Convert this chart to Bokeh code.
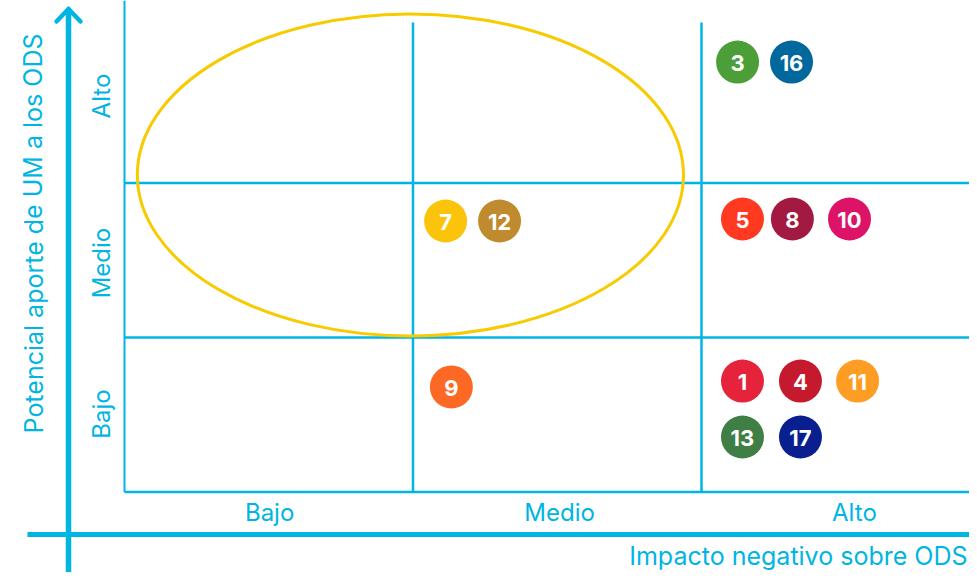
from bokeh.plotting import figure
from bokeh.models import Range1d, ColumnDataSource
from bokeh.core.properties import value
from bokeh.embed import file_html
from bokeh.resources import INLINE

# ---- data ----
levels = ["Bajo", "Medio", "Alto"]
x_title = "Impacto negativo sobre ODS"
y_title = "Potencial aporte de UM a los ODS"

ods = ["3", "16", "5", "8", "10", "7", "12", "9", "1", "4", "11", "13", "17"]
impacto = [2.125, 2.312, 2.142, 2.315, 2.513, 1.113, 1.300, 1.133, 2.142, 2.343, 2.541, 2.142, 2.343]
aporte = [2.783, 2.783, 1.767, 1.767, 1.767, 1.754, 1.754, 0.680, 0.718, 0.718, 0.718, 0.356, 0.356]
colores = ["#4C9F38", "#00689D", "#FF3A21", "#A21942", "#DD1367", "#FCC30B", "#BF8B2E",
           "#FD6925", "#E5243B", "#C5192D", "#FD9D24", "#3F7E44", "#0A1F8F"]

# highlighted zone (ellipse): centre, width, height in level units
zona_x, zona_y, zona_w, zona_h = 0.991, 2.052, 1.893, 2.084

CYAN = "#00B5E2"
FONT = "Inter"

# ---- figure: data units = levels; x px = 124 + 288.5*x, y px = 491 - 154.5*y ----
XU, X0 = 288.5, 124.0
YU, Y0 = 154.5, 491.5
W, H = 969, 572
def px_x(px):
    return (px - X0) / XU
def px_y(py):
    return (Y0 - py) / YU

p = figure(width=W, height=H, output_backend="svg", toolbar_location=None,
           x_range=Range1d(px_x(0), px_x(W)), y_range=Range1d(px_y(H), px_y(0)),
           min_border=0)
p.axis.visible = False
p.grid.visible = False
p.outline_line_color = None
p.background_fill_color = "white"

n = len(levels)
top = px_y(22)
# grid lines of the matrix
p.segment(x0=[0], y0=[0], x1=[0], y1=[px_y(0)], line_color=CYAN, line_width=2)
p.segment(x0=[i for i in range(1, n)], y0=[0] * (n - 1), x1=[i for i in range(1, n)],
          y1=[top] * (n - 1), line_color=CYAN, line_width=2.5)
p.segment(x0=[0] * n, y0=list(range(n)), x1=[n] * n, y1=list(range(n)),
          line_color=CYAN, line_width=2.5)

# big axis arrows
p.segment(x0=[px_x(68)], y0=[px_y(580)], x1=[px_x(68)], y1=[px_y(9)],
          line_color=CYAN, line_width=5.5)
p.segment(x0=[px_x(56), px_x(80)], y0=[px_y(21), px_y(21)], x1=[px_x(68), px_x(68)],
          y1=[px_y(8.5), px_y(8.5)], line_color=CYAN, line_width=4.5, line_cap="round")
p.segment(x0=[px_x(27)], y0=[px_y(534)], x1=[px_x(980)], y1=[px_y(534)],
          line_color=CYAN, line_width=5)

# tick labels
p.text(x=[0.503, 1.508, 2.53], y=[px_y(512)] * n, text=levels, text_align="center",
       text_baseline="middle", text_color=CYAN, text_font=value(FONT),
       text_font_size="24px")
p.text(x=[px_x(101)] * n, y=[0.505, 1.482, 2.563], text=levels, text_align="center",
       text_baseline="middle", text_color=CYAN, text_font=value(FONT),
       text_font_size="24px", angle=1.5708)

# axis titles
p.text(x=[px_x(967)], y=[px_y(555)], text=[x_title], text_align="right",
       text_baseline="middle", text_color=CYAN, text_font=value(FONT),
       text_font_size="25px")
p.text(x=[px_x(33)], y=[px_y(233)], text=[y_title], text_align="center",
       text_baseline="middle", text_color=CYAN, text_font=value(FONT),
       text_font_size="25px", angle=1.5708)

# ellipse zone
p.ellipse(x=[zona_x], y=[zona_y], width=[zona_w], height=[zona_h],
          fill_color=None, line_color="#F7CB00", line_width=3)

# ODS circles
src = ColumnDataSource(dict(x=impacto, y=aporte, ods=ods, color=colores))
p.scatter(x="x", y="y", source=src, size=43, fill_color="color", line_color=None)
p.text(x="x", y="y", text="ods", source=src, text_align="center", text_baseline="middle",
       text_color="white", text_font=value(FONT), text_font_style="bold",
       text_font_size="22px", y_offset=1)

open("out.html", "w").write(file_html(p, INLINE))
